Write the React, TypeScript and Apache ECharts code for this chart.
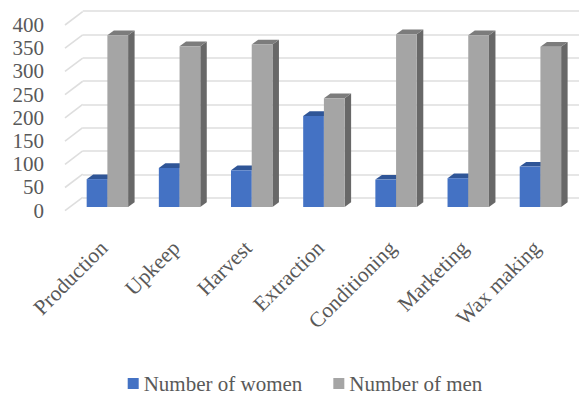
import React, { useEffect, useRef } from "react";
import * as echarts from "echarts";

// Beekeeping activities and the number of people doing each of them
const categories = ["Production", "Upkeep", "Harvest", "Extraction", "Conditioning", "Marketing", "Wax making"];
const women = [60, 84, 79, 196, 59, 62, 87];
const men = [370, 346, 350, 234, 372, 370, 345];
const gridValues = [0, 50, 100, 150, 200, 250, 300, 350, 400];

const FONT = "'Liberation Serif', 'Times New Roman', serif";
const TEXT = "#595959";
const DEPTH_X = 6.5;
const DEPTH_Y = 4.7;
const BAR_SHARE = 0.287;

// One extruded bar: front face, lid and right-hand side
function bar3d(front: string, top: string, side: string, direction: number) {
  return (_params: any, api: any) => {
    const index = api.value(0);
    const tip = api.coord([index, api.value(1)]);
    const base = api.coord([index, 0]);
    const w = api.size([1, 0])[0] * BAR_SHARE;
    const x0 = direction < 0 ? tip[0] - w : tip[0];
    const x1 = x0 + w;
    const y0 = tip[1];
    const y1 = base[1];
    return {
      type: "group",
      children: [
        {
          type: "polygon",
          shape: { points: [[x1, y0], [x1 + DEPTH_X, y0 - DEPTH_Y], [x1 + DEPTH_X, y1 - DEPTH_Y], [x1, y1]] },
          style: { fill: side },
        },
        {
          type: "polygon",
          shape: { points: [[x0, y0], [x0 + DEPTH_X, y0 - DEPTH_Y], [x1 + DEPTH_X, y0 - DEPTH_Y], [x1, y0]] },
          style: { fill: top },
        },
        { type: "rect", shape: { x: x0, y: y0, width: w, height: y1 - y0 }, style: { fill: front } },
      ],
    };
  };
}

// Floor edge that joins each axis value to its line on the back wall
function floorEdge(_params: any, api: any) {
  const p = api.coord([0, api.value(1)]);
  return {
    type: "line",
    shape: { x1: p[0], y1: p[1], x2: p[0] + 17.7, y2: p[1] - 13.4 },
    style: { stroke: "#dedede", lineWidth: 1.6 },
  };
}

export default function App() {
  const ref = useRef<HTMLDivElement>(null);

  useEffect(() => {
    const chart = echarts.init(ref.current!, undefined, { renderer: "svg" });
    chart.setOption({
      animation: false,
      backgroundColor: "#ffffff",
      textStyle: { fontFamily: FONT },
      legend: {
        data: ["Number of women", "Number of men"],
        left: 127.7,
        top: 373,
        padding: 0,
        icon: "rect",
        itemWidth: 11,
        itemHeight: 11,
        itemGap: 31,
        textStyle: { fontFamily: FONT, fontSize: 21, color: TEXT },
      },
      grid: [
        { left: 71.3, top: 21.2, width: 505.2, height: 185.8 },
        { left: 82.7, top: 11, right: 0, height: 186.7 },
        { left: 65, top: 25, width: 18, height: 185.7 },
      ],
      xAxis: [
        {
          gridIndex: 0,
          type: "category",
          data: categories,
          axisLine: { show: false },
          axisTick: { show: false },
          axisLabel: {
            interval: 0,
            rotate: 45,
            margin: 34,
            padding: [0, 5, 0, 0],
            fontFamily: FONT,
            fontSize: 21.5,
            color: TEXT,
          },
        },
        { gridIndex: 1, type: "value", min: 0, max: 1, show: false },
        { gridIndex: 2, type: "value", min: 0, max: 1, show: false },
      ],
      yAxis: [
        { gridIndex: 0, type: "value", min: 0, max: 400, interval: 50, show: false },
        {
          gridIndex: 1,
          type: "value",
          min: 0,
          max: 400,
          interval: 50,
          axisLine: { show: false },
          axisTick: { show: false },
          axisLabel: { show: false },
          splitLine: { show: true, lineStyle: { color: "#dedede", width: 1.6 } },
        },
        {
          gridIndex: 2,
          type: "value",
          min: 0,
          max: 400,
          interval: 50,
          axisLine: { show: false },
          axisTick: { show: false },
          splitLine: { show: false },
          axisLabel: { margin: 21, fontFamily: FONT, fontSize: 21, color: TEXT },
        },
      ],
      series: [
        {
          type: "custom",
          name: "Floor",
          xAxisIndex: 2,
          yAxisIndex: 2,
          silent: true,
          clip: false,
          renderItem: floorEdge,
          data: gridValues.map((v) => [0, v]),
          encode: { x: 0, y: 1 },
          z: 1,
        },
        {
          type: "custom",
          name: "Number of women",
          xAxisIndex: 0,
          yAxisIndex: 0,
          clip: false,
          itemStyle: { color: "#4472c4" },
          renderItem: bar3d("#4472c4", "#2f5597", "#2f5597", -1),
          data: women.map((v, i) => [i, v]),
          encode: { x: 0, y: 1 },
          z: 2,
        },
        {
          type: "custom",
          name: "Number of men",
          xAxisIndex: 0,
          yAxisIndex: 0,
          clip: false,
          itemStyle: { color: "#a5a5a5" },
          renderItem: bar3d("#a5a5a5", "#7c7c7c", "#686868", 1),
          data: men.map((v, i) => [i, v]),
          encode: { x: 0, y: 1 },
          z: 3,
        },
      ],
    });
    return () => chart.dispose();
  }, []);

  return <div ref={ref} style={{ position: "absolute", left: 0, top: 0, width: 579, height: 393 }} />;
}
